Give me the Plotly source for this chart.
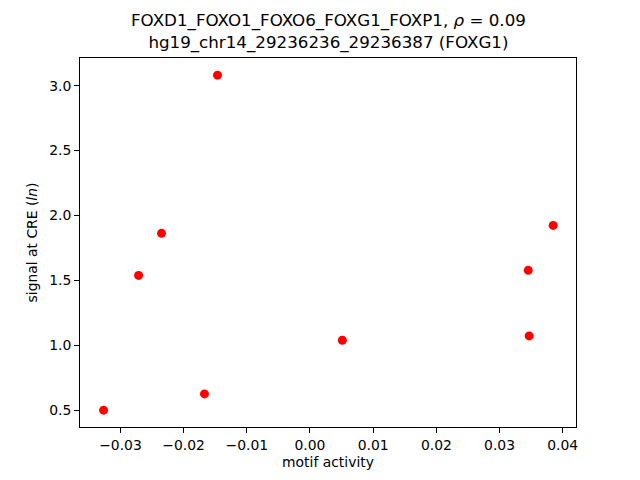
import plotly.graph_objects as go

motif_activity = [-0.01464, -0.0235, -0.02713, -0.03267, -0.0167, 0.00512, 0.03454, 0.03469, 0.03849]
signal = [3.081, 1.862, 1.538, 0.500, 0.625, 1.038, 1.577, 1.072, 1.923]
x_ticks = [-0.03, -0.02, -0.01, 0.00, 0.01, 0.02, 0.03, 0.04]
y_ticks = [0.5, 1.0, 1.5, 2.0, 2.5, 3.0]

FONT = "DejaVu Sans"

fig = go.Figure()
fig.add_trace(go.Scatter(
    x=motif_activity, y=signal, mode="markers",
    marker=dict(color="#ff0000", size=9, line=dict(width=0)),
    showlegend=False,
))

axis_common = dict(
    showline=True, linecolor="black", linewidth=1, mirror=True,
    ticks="outside", ticklen=5, tickwidth=1, tickcolor="black",
    showgrid=False, zeroline=False,
    tickfont=dict(family=FONT, size=13.9, color="black"),
)

# the page body adds an 8px offset; compensate in margins
fig.update_layout(
    width=640, height=480,
    paper_bgcolor="white", plot_bgcolor="white",
    margin=dict(l=72, r=72, t=49.6, b=60.8, autoexpand=False),
    font=dict(family=FONT, color="black"),
    xaxis=dict(range=[-0.0364, 0.0421], tickvals=x_ticks,
               ticktext=[("−%.2f" % abs(v)) if v < 0 else "%.2f" % v for v in x_ticks],
               title=dict(text="motif activity", font=dict(family=FONT, size=13.9), standoff=5),
               **axis_common),
    yaxis=dict(range=[0.37, 3.213], tickvals=y_ticks,
               ticktext=["%.1f" % v for v in y_ticks],
               title=dict(text="signal at CRE (<i>ln</i>)", font=dict(family=FONT, size=13.9), standoff=8),
               **axis_common),
    annotations=[dict(
        text="FOXD1_FOXO1_FOXO6_FOXG1_FOXP1, <i>ρ</i> = 0.09<br>hg19_chr14_29236236_29236387 (FOXG1)",
        x=0.5, y=1, xref="paper", yref="paper", xanchor="center", yanchor="bottom",
        yshift=3, showarrow=False, font=dict(family=FONT, size=16.7, color="black"),
    )],
)

fig.write_html("out.html")
